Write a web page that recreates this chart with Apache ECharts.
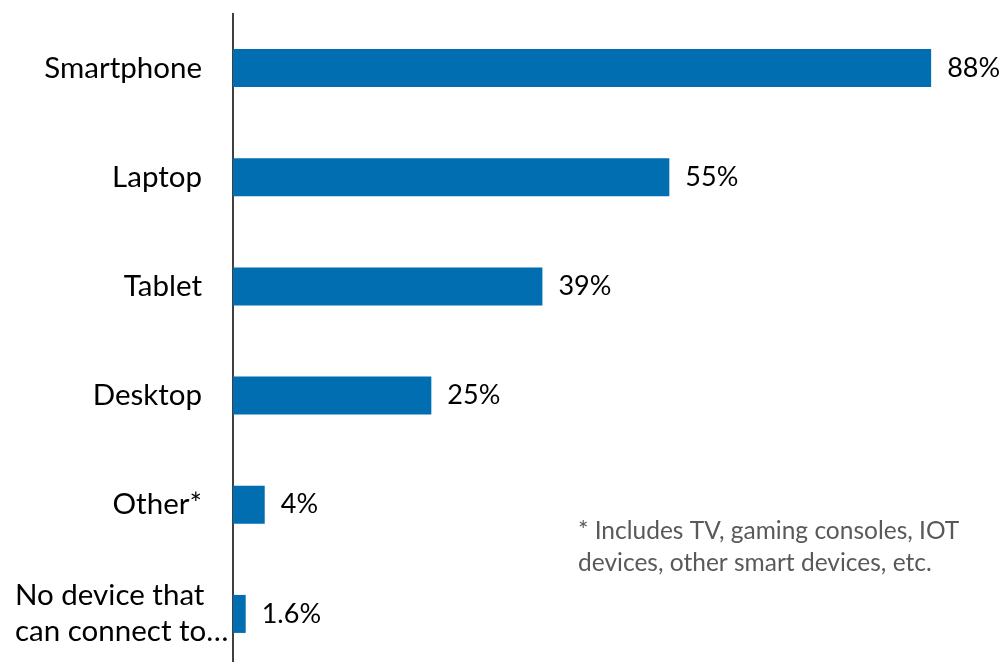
<!DOCTYPE html>
<html><head><meta charset="utf-8">
<script src="https://cdn.jsdelivr.net/npm/echarts@6/dist/echarts.min.js"></script>
<style>html,body{margin:0;padding:0;background:#fff}#c{width:1007px;height:662px}</style>
</head><body><div id="c"></div>
<script>
const categories = ["Smartphone", "Laptop", "Tablet", "Desktop", "Other*", "No device that\ncan connect to\u2026"];
const values = [88, 55, 39, 25, 4, 1.6];
const valueLabels = ["88%", "55%", "39%", "25%", "4%", "1.6%"];
const footnote = "* Includes TV, gaming consoles, IOT\ndevices, other smart devices, etc.";

const chart = echarts.init(document.getElementById('c'), null, {renderer: 'canvas'});
const FONT = 'Lato';
chart.setOption({
  animation: false,
  grid: {left: 233, width: 714, top: 13.5, height: 655, containLabel: false, outerBoundsMode: 'none'},
  xAxis: {type: 'value', min: 0, max: 90, show: false},
  yAxis: {
    type: 'category', inverse: true, data: categories,
    axisLine: {show: true, lineStyle: {color: '#000', width: 1.5}},
    axisTick: {show: false},
    axisLabel: {
      color: '#000', fontFamily: FONT, fontSize: 29.5, margin: 31, lineHeight: 36, align: 'right',
      formatter: v => v.indexOf('\n') >= 0
        ? v.split('\n').map(s => '{w|' + s + '}').join('\n')
        : v,
      rich: {w: {width: 187, align: 'left', color: '#000', fontFamily: FONT, fontSize: 29.5, lineHeight: 36}}
    }
  },
  series: [{
    type: 'bar', data: values, barWidth: 38,
    itemStyle: {color: '#006eb0'},
    label: {show: true, position: 'right', distance: 16, color: '#000', fontFamily: FONT, fontSize: 27,
      formatter: p => valueLabels[p.dataIndex]}
  }],
  graphic: [{
    type: 'text', left: 578, top: 515,
    style: {text: footnote, fill: '#595959', font: '24.5px ' + FONT, lineHeight: 32}
  }]
});
</script></body></html>
